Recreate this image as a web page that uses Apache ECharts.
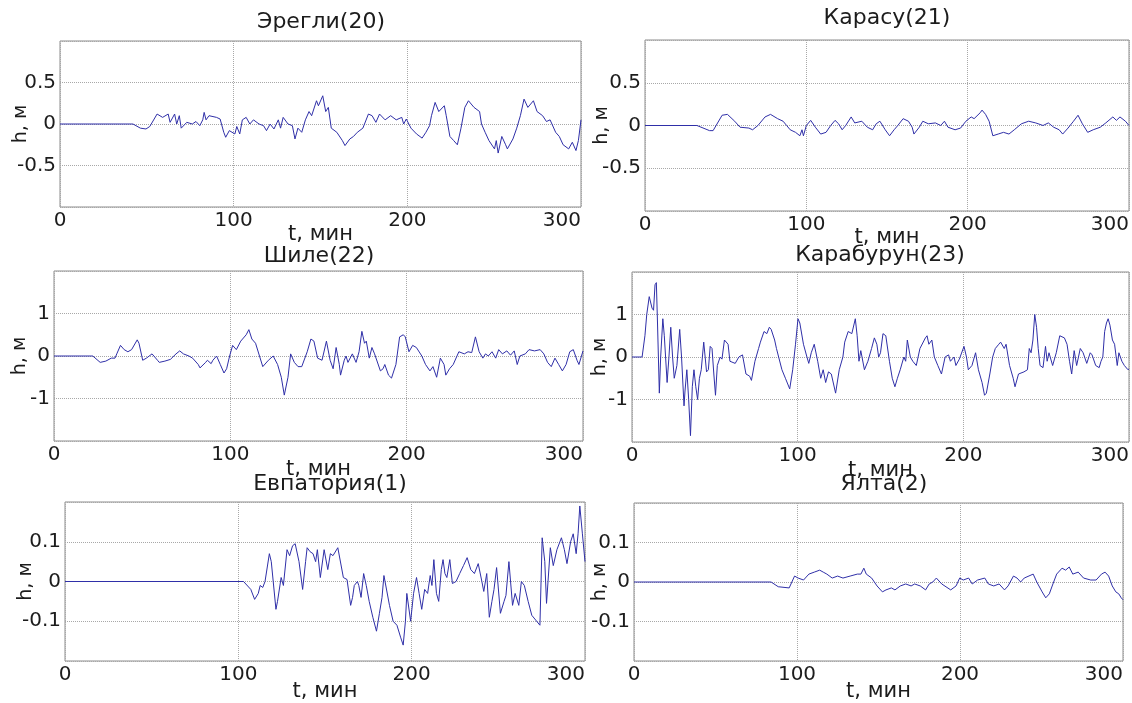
<!DOCTYPE html>
<html>
<head>
<meta charset="utf-8">
<title>h(t)</title>
<script src="https://cdn.jsdelivr.net/npm/echarts@6/dist/echarts.min.js"></script>
<style>
  html, body { margin: 0; padding: 0; background: #fff; }
  #chart { width: 1132px; height: 703px; }
</style>
</head>
<body>
<div id="chart"></div>
<script>
// t, min and h, m for each gauge
const ereglyT = [0, 42, 46.3, 49.5, 51.7, 52.7, 55.9, 59.1, 62.3, 63.4, 66, 67.2, 68.7, 69.8, 73, 76.2, 78.3, 80.5, 82.2, 83, 84.1, 85.8, 90.1, 92.2, 94.3, 95.4, 97.5, 100.7, 101.8, 103.5, 105, 107.2, 109.3, 111.4, 114.6, 117.2, 118.9, 121, 123.2, 125.7, 127, 128.5, 131.3, 133.8, 135.3, 137, 139.2, 141.3, 143.4, 144.9, 147.7, 148.8, 151.3, 153, 154.5, 156.2, 159.4, 162.6, 164.1, 166.9, 169, 171.2, 174.4, 177.6, 179.7, 181.9, 184, 187.2, 190.4, 193.6, 196.8, 197.9, 199.4, 202.1, 205.3, 208.5, 210.7, 212.8, 213.9, 216, 218.1, 221.3, 222.4, 224.5, 226.7, 228.8, 230.9, 233.1, 235.2, 238.4, 241.6, 242.7, 244.8, 247, 250.2, 251.2, 252.3, 254.4, 256.6, 257.6, 260.8, 263, 265.1, 267.2, 269.4, 272.6, 274.7, 277.9, 280.1, 282.2, 285.4, 287.5, 289.7, 292.9, 295, 297.1, 298.5, 300];
const ereglyH = [0, 0, -0.05, -0.06, -0.03, -0.05, 0.12, 0.08, 0.12, 0.02, 0.12, 0, 0.1, -0.05, 0.02, 0, 0.03, -0.02, 0.05, 0.14, 0.05, 0.1, 0.08, 0.06, -0.1, -0.16, -0.08, -0.12, -0.03, -0.12, 0.05, 0.08, 0, 0.05, 0, -0.02, -0.08, 0, -0.06, 0.05, -0.05, 0.08, 0, -0.02, -0.18, -0.05, -0.1, 0.05, 0.15, 0.1, 0.28, 0.22, 0.34, 0.15, 0.2, -0.05, -0.1, -0.2, -0.26, -0.18, -0.15, -0.1, -0.05, 0.12, 0.1, 0.02, 0.12, 0.05, 0.1, 0.05, 0.08, 0, 0.06, -0.05, -0.12, -0.17, -0.1, -0.02, 0.1, 0.26, 0.15, 0.22, 0.1, -0.15, -0.2, -0.25, -0.05, 0.2, 0.28, 0.2, 0.15, 0, -0.1, -0.2, -0.3, -0.2, -0.35, -0.15, -0.25, -0.3, -0.18, -0.05, 0.1, 0.3, 0.2, 0.28, 0.15, 0.1, 0.03, 0.05, -0.1, -0.15, -0.25, -0.3, -0.22, -0.32, -0.2, 0.05];

const karasuT = [0, 32.2, 40, 42.2, 47.8, 51.1, 55.6, 58.9, 64.4, 66.7, 70, 74.4, 77.8, 82.2, 85.6, 87.8, 90, 93.3, 96, 97.3, 98.2, 100, 102.7, 105.6, 108.9, 112.2, 115.1, 117.8, 120, 122.2, 124.4, 127.8, 130, 134.4, 137.8, 141.1, 143.3, 145.6, 148.9, 151.6, 154.4, 156.7, 160, 163.3, 165.6, 166.7, 170, 172.2, 175.6, 180, 183.3, 185.6, 187.8, 192.2, 195.6, 198.9, 202.2, 204, 207.8, 208.9, 211.1, 213.3, 215.6, 218.9, 222.2, 225.6, 228.9, 233.3, 237.8, 242.2, 246.7, 250, 253.3, 256.7, 258.9, 262.2, 265.6, 268.4, 271.1, 274.4, 277.8, 282.2, 285.6, 290, 292.2, 294.4, 297.8, 300];
const karasuH = [0, 0, -0.06, -0.06, 0.12, 0.13, 0.05, -0.02, -0.03, -0.05, 0, 0.1, 0.13, 0.08, 0.05, 0, -0.05, -0.08, -0.12, -0.05, -0.12, 0, 0.06, -0.02, -0.1, -0.08, 0, 0.06, 0.02, -0.05, 0, 0.1, 0.03, 0.05, -0.02, -0.05, 0.02, 0.05, -0.05, -0.12, -0.05, 0, 0.08, 0.05, -0.02, -0.1, -0.02, 0.05, 0.02, 0.03, 0, 0.05, -0.02, -0.05, -0.03, 0.05, 0.1, 0.08, 0.15, 0.18, 0.13, 0.05, -0.12, -0.1, -0.08, -0.1, -0.05, 0.02, 0.05, 0.03, 0, 0.03, -0.02, -0.05, -0.1, -0.03, 0.05, 0.12, 0.02, -0.08, -0.05, -0.02, 0.03, 0.1, 0.06, 0.1, 0.05, 0];

const shileT = [0, 22, 26.2, 29.4, 32.5, 34.6, 35.6, 37.7, 39.8, 41.9, 44, 45.1, 47.2, 48.2, 50.3, 52.4, 55.6, 58.7, 59.7, 62.9, 66, 69.2, 71.3, 73.4, 76.5, 78.6, 81.8, 82.8, 86, 87, 89.1, 90.1, 92.2, 94.3, 96.4, 97.9, 99.6, 101.3, 103.4, 105.9, 109, 110.5, 112.2, 114.3, 118.4, 121.6, 124.3, 126.8, 128.9, 130.6, 132.7, 134.2, 136.3, 138.4, 140.5, 143.6, 145.7, 147.4, 149.5, 152, 154.5, 156.6, 158.3, 160, 161.8, 162.5, 164.6, 165.6, 166.7, 169.2, 171.3, 173, 174.6, 176.1, 177.1, 178.8, 180.3, 181.8, 185.1, 186.6, 187.6, 189.7, 191.4, 193.9, 196, 198.1, 199.2, 201.3, 203.4, 205.5, 208.6, 210.7, 213.2, 214.9, 217, 219.1, 221.2, 222.2, 224.3, 226.4, 229.6, 232.7, 234.8, 236.9, 239, 241.1, 243.2, 244.7, 246.3, 248.4, 250.5, 252.2, 254.3, 256.8, 258.9, 261, 262.7, 264.2, 267.3, 269.4, 272.5, 275.7, 277.8, 279.9, 282, 284.1, 286.2, 288.3, 290.4, 292.5, 294.5, 296.6, 297.7, 300];
const shileH = [0, 0, -0.15, -0.12, -0.05, -0.05, 0.05, 0.25, 0.15, 0.1, 0.15, 0.12, 0.38, 0.3, -0.1, -0.05, 0.05, -0.1, -0.15, -0.12, -0.08, 0.05, 0.12, 0.05, 0, -0.05, -0.2, -0.28, -0.15, -0.1, -0.18, -0.1, 0, -0.2, -0.4, -0.3, 0, 0.25, 0.15, 0.35, 0.5, 0.62, 0.4, 0.3, -0.25, -0.1, 0, -0.2, -0.5, -0.92, -0.5, 0.05, -0.15, -0.25, -0.25, 0.1, 0.4, 0.35, -0.05, -0.1, 0.35, -0.1, -0.3, 0.2, -0.2, -0.45, -0.1, 0, -0.15, 0.05, -0.15, 0.1, 0.58, 0.3, 0.35, -0.05, 0.2, 0.05, -0.35, -0.3, -0.2, -0.45, -0.52, -0.2, 0.45, 0.5, 0.45, 0.1, 0.25, 0.2, 0, -0.2, -0.35, -0.25, -0.5, -0.05, -0.2, -0.45, -0.3, -0.2, 0.1, 0.05, 0.1, 0.08, 0.45, 0.1, -0.05, 0.05, 0, 0.1, -0.05, 0.15, 0.05, 0.12, 0.02, 0.12, -0.2, 0, 0.05, 0.15, 0.12, 0.15, 0.05, -0.15, -0.25, -0.05, -0.2, -0.35, -0.2, 0.1, 0.15, -0.1, -0.2, 0.12];

const karaburunT = [0, 6.1, 7.8, 8.9, 10.4, 12.1, 13, 13.9, 14.7, 15.4, 16.5, 17.3, 18.6, 19.5, 21.2, 22.3, 23.4, 24.5, 25.5, 27.1, 28.8, 29.9, 31.4, 32, 33.1, 34.2, 35.3, 36.4, 37.4, 38.5, 39.6, 40.7, 41.8, 43.3, 45, 46.1, 47.2, 48.3, 49.4, 50.4, 51.5, 53.2, 54.3, 55.8, 58, 59.1, 62.3, 64.5, 66.7, 68.8, 71, 72.1, 74.2, 76.4, 77.5, 79.7, 81.4, 82.9, 84, 86.1, 87.2, 90.5, 92.6, 95.2, 97, 98.7, 100.2, 101.3, 103.5, 105.6, 106.7, 108.2, 110, 112.1, 113.9, 115.4, 116.9, 118.6, 120.3, 122.9, 125.1, 127.3, 128.4, 130.5, 132.7, 134.8, 135.9, 137, 138.1, 140.3, 142.4, 144.6, 146.3, 147.8, 148.9, 150, 151.5, 153.2, 155.4, 157.1, 158.7, 160.2, 161.9, 164.1, 165.2, 166.2, 168, 169.5, 171.6, 173.8, 177.1, 178.1, 179.2, 181, 182.5, 184.6, 186.8, 189, 191.1, 192.2, 194.4, 195.5, 197.6, 200.4, 201.9, 203, 205.2, 207.4, 209.1, 211.3, 212.8, 213.9, 216, 217.7, 219.3, 221.4, 222.5, 224.7, 225.8, 227.9, 230.1, 231.2, 233.3, 236.6, 238.7, 239.8, 240.9, 242, 243.1, 244.2, 245.2, 246.3, 248.1, 249.6, 250.6, 251.7, 253.9, 256.1, 258.2, 261, 262.6, 264.1, 265.4, 266.9, 268.4, 270.6, 272.3, 274.5, 276.6, 277.7, 279.9, 282, 283.1, 284.2, 285.3, 286.4, 287.4, 288.5, 290, 291.3, 292.9, 293.9, 295.7, 297.2, 299.4, 300];
const karaburunH = [0, 0, 0.5, 1, 1.42, 1.15, 1.1, 1.7, 1.75, 0.8, -0.85, 0, 0.9, 0.5, -0.6, 0, 0.7, 0, -0.5, -0.2, 0.65, 0, -1.15, -0.8, -0.3, -1, -1.85, -0.7, -0.3, -0.7, -1, -0.5, -0.3, 0.35, -0.35, -0.3, 0.25, 0.2, -0.4, -0.9, -0.2, 0, -0.05, 0.4, 0.3, -0.1, -0.15, 0, 0.05, -0.4, -0.45, -0.55, -0.1, 0.2, 0.35, 0.6, 0.55, 0.7, 0.65, 0.4, 0.2, -0.3, -0.5, -0.75, -0.3, 0.3, 0.9, 0.8, 0.3, 0, -0.15, 0.1, 0.3, -0.1, -0.5, -0.3, -0.6, -0.35, -0.4, -0.85, -0.3, 0, 0.35, 0.6, 0.55, 0.9, 0.5, -0.1, 0.15, -0.3, -0.1, 0.2, 0.45, 0.3, 0, 0.1, 0.55, 0.5, -0.1, -0.5, -0.7, -0.5, -0.3, 0, -0.1, 0.4, 0, -0.1, -0.2, 0.2, 0.45, 0.5, 0.3, 0.4, 0, -0.2, -0.4, 0, 0.05, -0.1, 0, -0.2, -0.05, 0.25, 0, -0.3, -0.2, 0.1, -0.3, -0.6, -0.9, -0.85, -0.4, 0, 0.2, 0.3, 0.35, 0.2, 0.3, -0.2, -0.5, -0.7, -0.4, -0.35, -0.3, 0.2, 0.1, 0.4, 1, 0.7, 0.2, -0.2, -0.25, 0.25, -0.1, 0.1, -0.2, 0.1, 0.5, 0.45, 0.3, -0.1, -0.4, 0.15, -0.2, 0.2, 0.1, -0.15, 0.1, 0.05, -0.2, -0.25, -0.1, 0, 0.6, 0.8, 0.9, 0.75, 0.4, 0.3, -0.2, 0.1, -0.1, -0.2, -0.3, -0.28];

const evpatoriaT = [0, 103, 107.2, 109.4, 111.5, 112.6, 114.1, 115.4, 117.9, 119, 121.7, 122.6, 124.7, 126, 128.1, 129.6, 131.3, 132.8, 135, 137.1, 138.8, 139.7, 141.4, 143.1, 144.6, 145.6, 147.3, 149.5, 151.6, 153.1, 154.6, 157.4, 158.4, 160.6, 162.7, 164.8, 165.9, 166.9, 168.7, 169.5, 170.8, 172.3, 173.8, 175.5, 177.6, 179.7, 181.4, 182.9, 184, 185.1, 187.2, 189.3, 191.5, 193.6, 195.1, 196.4, 197.2, 199.4, 201.1, 202.8, 204.3, 205.8, 207.5, 209.2, 210.7, 211.7, 212.8, 214.3, 215.6, 217.1, 218.1, 219.2, 220.3, 222, 223.5, 225.6, 227.7, 229.9, 232, 234.1, 236.2, 238.4, 240.5, 241.6, 243.3, 244.8, 246.3, 247.5, 249, 251.2, 253.3, 254.4, 256.1, 258.2, 259.7, 261.8, 263.3, 265, 267.2, 269.3, 274, 275.3, 276.8, 277.8, 280, 281.7, 283.8, 286.4, 288.1, 289.6, 291.7, 293.2, 294.9, 296, 297, 298.5, 300];
const evpatoriaH = [0, 0, -0.02, -0.045, -0.03, -0.01, -0.015, 0, 0.07, 0.05, -0.07, -0.05, 0.01, -0.01, 0.08, 0.065, 0.09, 0.095, 0.05, -0.02, 0.05, 0.085, 0.075, 0.07, 0.05, 0.08, 0.01, 0.08, 0.03, 0.07, 0.065, 0.085, 0.09, 0.01, 0.005, -0.06, -0.04, -0.01, 0, -0.01, -0.04, 0.02, -0.01, -0.05, -0.09, -0.125, -0.08, -0.04, 0.015, 0.02, -0.06, -0.1, -0.11, -0.14, -0.16, -0.1, -0.03, -0.1, -0.03, 0.01, -0.03, -0.07, -0.02, -0.03, 0.015, -0.01, 0.055, -0.03, -0.05, 0.03, 0.055, 0.02, 0.01, 0.055, -0.005, 0, 0.02, 0.04, 0.06, 0.03, 0.02, 0.045, 0, -0.025, 0.02, -0.09, -0.05, -0.02, 0.035, -0.08, -0.05, -0.035, 0.05, -0.06, -0.03, -0.06, 0, -0.01, -0.05, -0.085, -0.11, 0.11, 0.05, -0.055, 0.085, 0.04, 0.08, 0.11, 0.08, 0.045, 0.1, 0.12, 0.07, 0.12, 0.19, 0.12, 0.05];

const yaltaT = [0, 84.1, 88.5, 95.2, 98.5, 100.7, 104, 107.3, 110.6, 113.9, 116.1, 118.3, 121.6, 124.9, 128.2, 132.6, 137, 139.2, 141, 142.5, 143.6, 145.8, 149.1, 152.4, 154.6, 157.9, 160.1, 163.4, 166.7, 170, 172.2, 175.6, 178.9, 181.1, 183.3, 185.5, 188.8, 194.3, 197.6, 199.8, 202, 205.3, 207.5, 210.8, 215.2, 217.4, 220.7, 224, 227.3, 229.5, 232.8, 235, 237.2, 239.4, 244.9, 247.1, 250.4, 252.6, 254.8, 257, 259.3, 262.6, 264.8, 267, 269.2, 272.5, 275.8, 280.2, 283.5, 286.8, 289, 291.2, 293.4, 295.6, 297.4, 298.9, 300];
const yaltaH = [0, 0, -0.012, -0.015, 0.015, 0.01, 0.005, 0.02, 0.025, 0.03, 0.025, 0.02, 0.01, 0.015, 0.01, 0.015, 0.02, 0.02, 0.035, 0.02, 0.025, 0.01, -0.01, -0.025, -0.02, -0.015, -0.02, -0.01, -0.005, -0.01, -0.005, -0.01, -0.02, -0.005, 0, 0.01, -0.005, -0.02, -0.01, 0.01, 0.005, 0.01, -0.005, 0.005, 0.01, -0.005, -0.01, -0.005, -0.02, -0.01, 0.015, 0.01, 0, 0.01, 0.02, 0, -0.025, -0.04, -0.03, -0.005, 0.02, 0.035, 0.03, 0.038, 0.02, 0.025, 0.01, 0.005, 0.005, 0.02, 0.025, 0.015, -0.01, -0.025, -0.03, -0.04, -0.045];

const titles = ['Эрегли(20)', 'Карасу(21)', 'Шиле(22)', 'Карабурун(23)', 'Евпатория(1)', 'Ялта(2)'];
const seriesT = [ereglyT, karasuT, shileT, karaburunT, evpatoriaT, yaltaT];
const seriesH = [ereglyH, karasuH, shileH, karaburunH, evpatoriaH, yaltaH];
const yLimit = [1, 1, 2, 2, 0.2, 0.2];
const yStep = [0.5, 0.5, 1, 1, 0.1, 0.1];
const xTicks = [0, 100, 200, 300];

// panel boxes in px, taken from the figure
const boxes = [
  { left: 60, top: 41, width: 521, height: 166, yGap: 29, xGap: 17, titleX: 321, titleY: 22 },
  { left: 645, top: 40, width: 484, height: 171, yGap: 33, xGap: 16, titleX: 887, titleY: 18 },
  { left: 54, top: 271, width: 529, height: 170, yGap: 24, xGap: 18, titleX: 319, titleY: 256 },
  { left: 632, top: 272, width: 497, height: 170, yGap: 22, xGap: 18, titleX: 880, titleY: 255 },
  { left: 65, top: 502, width: 520, height: 168, yGap: 29, xGap: 20, titleX: 330, titleY: 484 },
  { left: 634, top: 503, width: 489, height: 167, yGap: 24, xGap: 20, titleX: 884, titleY: 484 }
];

const FONT = '"DejaVu Sans", sans-serif';
const TEXT = '#1c1c1c';
const BORDER = '#8c8c8c';
const GRIDLINE = '#a8a8a8';
const LINE = '#2f2fa8';

const chart = echarts.init(document.getElementById('chart'));

const fmt = v => String(Math.round(v * 100) / 100);

chart.setOption({
  backgroundColor: '#fff',
  animation: false,
  textStyle: { fontFamily: FONT, color: TEXT },
  grid: boxes.map(b => ({
    left: b.left, top: b.top, width: b.width, height: b.height,
    show: true, borderColor: BORDER, borderWidth: 1, backgroundColor: 'transparent'
  })),
  xAxis: boxes.map((b, i) => ({
    type: 'value',
    gridIndex: i,
    min: xTicks[0],
    max: xTicks[xTicks.length - 1],
    interval: 100,
    name: 't, мин',
    nameLocation: 'middle',
    nameGap: b.xGap,
    nameMoveOverlap: false,
    nameTextStyle: { fontFamily: FONT, fontSize: 21, color: TEXT },
    axisLine: { show: false },
    axisTick: { show: false },
    axisLabel: {
      fontFamily: FONT, fontSize: 20, color: TEXT, margin: 4,
      alignMaxLabel: 'right'
    },
    splitLine: { show: true, lineStyle: { color: GRIDLINE, type: 'dotted', width: 1 } }
  })),
  yAxis: boxes.map((b, i) => ({
    type: 'value',
    gridIndex: i,
    min: -yLimit[i],
    max: yLimit[i],
    interval: yStep[i],
    name: 'h, м',
    nameLocation: 'middle',
    nameRotate: 90,
    nameGap: b.yGap,
    nameMoveOverlap: false,
    nameTextStyle: { fontFamily: FONT, fontSize: 19, color: TEXT },
    axisLine: { show: false },
    axisTick: { show: false },
    axisLabel: {
      fontFamily: FONT, fontSize: 20, color: TEXT, margin: 4,
      showMinLabel: false, showMaxLabel: false,
      formatter: fmt
    },
    splitLine: { show: true, lineStyle: { color: GRIDLINE, type: 'dotted', width: 1 } }
  })),
  graphic: boxes.map((b, i) => ({
    type: 'text',
    x: b.titleX,
    y: b.titleY,
    style: {
      text: titles[i],
      font: '22px ' + FONT,
      fill: TEXT,
      textAlign: 'center',
      textVerticalAlign: 'middle'
    }
  })),
  series: seriesT.map((ts, i) => ({
    type: 'line',
    xAxisIndex: i,
    yAxisIndex: i,
    data: ts.map((t, k) => [t, seriesH[i][k]]),
    showSymbol: false,
    lineStyle: { color: LINE, width: 1 },
    itemStyle: { color: LINE },
    silent: true
  }))
});
</script>
</body>
</html>
